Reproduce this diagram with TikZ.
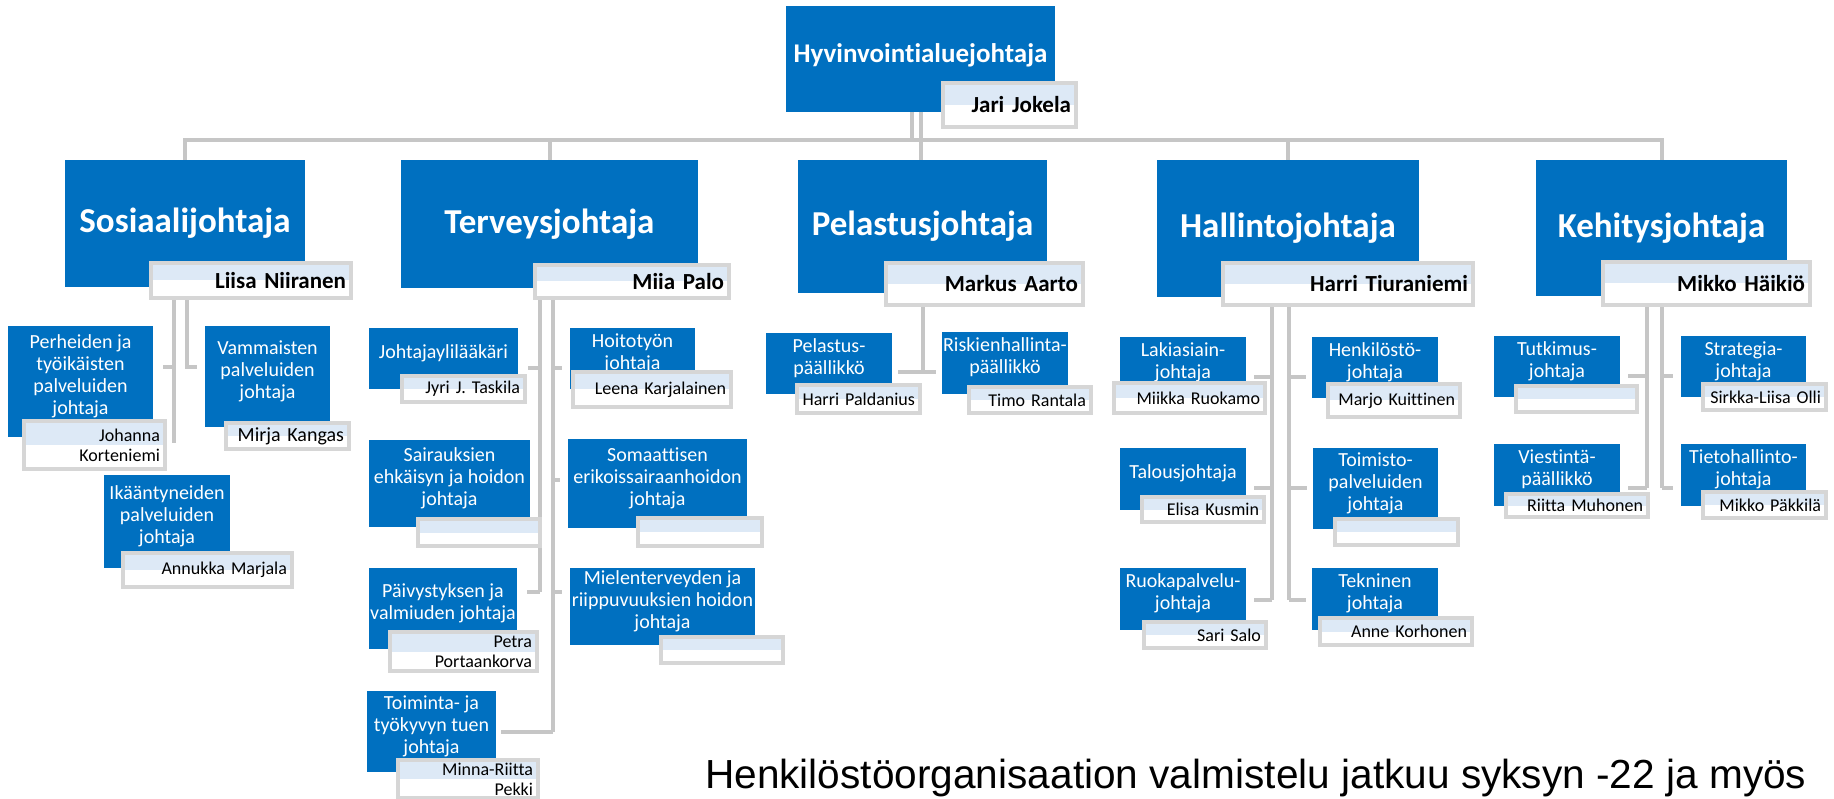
\documentclass[tikz,border=0pt]{standalone}
\usepackage{fontspec}
\setmainfont{Carlito}[Ligatures=NoCommon]
\newfontfamily\arialfont{Liberation Sans}
\usetikzlibrary{backgrounds}
\definecolor{orgblue}{RGB}{0,112,192}
\definecolor{framegray}{RGB}{214,214,214}
\definecolor{linegray}{RGB}{198,198,198}
\definecolor{paleblue}{RGB}{221,233,246}
\tikzset{
  bluebox/.style={fill=orgblue, text=white, align=center, inner sep=0pt, outer sep=0pt, anchor=north west, text depth=14pt, font=\fontsize{20}{22}\selectfont},
  headbox/.style={bluebox, text depth=, font=\fontsize{35}{40}\selectfont\bfseries},
  namebox/.style={draw=framegray, line width=4pt, fill=white, text=black, align=right, inner xsep=5pt, inner ysep=0pt, outer sep=0pt, anchor=north west, font=\fontsize{18}{20}\selectfont,
    path picture={\fill[paleblue] (path picture bounding box.north west) rectangle (path picture bounding box.east);}},
  headname/.style={namebox, font=\fontsize{23}{26}\selectfont\bfseries},
  conn/.style={draw=linegray, line width=4pt},
  note/.style={anchor=base west, inner sep=0pt, font=\arialfont\fontsize{40.6}{48}\selectfont}
}
\begin{document}
\begin{tikzpicture}[x=1pt, y=-1pt]
\useasboundingbox (0,0) rectangle (1834,799);

% ylin taso
\node[headbox, minimum width=269pt, minimum height=106pt, text depth=12pt, font=\fontsize{27}{30}\selectfont\bfseries] (top) at (786,6) {Hyvinvointialuejohtaja};
\node[headname, text width=123pt, minimum height=44pt] (topN) at (943,83) {Jari Jokela};

% johtajat
\node[headbox, minimum width=240pt, minimum height=127pt] (soc) at (65,160) {Sosiaalijohtaja};
\node[headname, text width=190pt, minimum height=35pt] (socN) at (151,263) {Liisa Niiranen};
\node[headbox, minimum width=297pt, minimum height=128pt] (terv) at (401,160) {Terveysjohtaja};
\node[headname, text width=184pt, minimum height=33pt] (tervN) at (535,265) {Miia Palo};
\node[headbox, minimum width=249pt, minimum height=133pt] (pel) at (798,160) {Pelastusjohtaja};
\node[headname, text width=187pt, minimum height=42pt] (pelN) at (886,263) {Markus Aarto};
\node[headbox, minimum width=262pt, minimum height=137pt] (hall) at (1157,160) {Hallintojohtaja};
\node[headname, text width=240pt, minimum height=42pt] (hallN) at (1223,263) {Harri Tiuraniemi};
\node[headbox, minimum width=251pt, minimum height=136pt] (keh) at (1536,160) {Kehitysjohtaja};
\node[headname, text width=197pt, minimum height=43pt] (kehN) at (1603,262) {Mikko Häikiö};

% sosiaali
\node[bluebox, minimum width=145pt, minimum height=111pt] (perh) at (8,326) {Perheiden ja\\työikäisten\\palveluiden\\johtaja};
\node[namebox, text width=131pt, minimum height=48pt] (perhN) at (24,421) {Johanna\\Korteniemi};
\node[bluebox, minimum width=125pt, minimum height=101pt] (vamm) at (205,326) {Vammaisten\\palveluiden\\johtaja};
\node[namebox, text width=113pt, minimum height=26pt, font=\fontsize{20}{22}\selectfont] (vammN) at (226,423) {Mirja Kangas};
\node[bluebox, minimum width=126pt, minimum height=93pt] (ikaa) at (104,475) {Ikääntyneiden\\palveluiden\\johtaja};
\node[namebox, text width=159pt, minimum height=34pt] (ikaaN) at (123,553) {Annukka Marjala};

% terveys
\node[bluebox, minimum width=149pt, minimum height=61pt] (ylil) at (369,328) {Johtajaylilääkäri};
\node[namebox, text width=113pt, minimum height=26pt] (ylilN) at (402,376) {Jyri J. Taskila};
\node[bluebox, minimum width=161pt, minimum height=87pt] (sair) at (369,440) {Sairauksien\\ehkäisyn ja hoidon\\johtaja};
\node[namebox, text width=112pt, minimum height=27pt] (sairN) at (418,519) {};
\node[bluebox, minimum width=148pt, minimum height=81pt] (paiv) at (369,568) {Päivystyksen ja\\valmiuden johtaja};
\node[namebox, text width=137pt, minimum height=39pt] (paivN) at (390,632) {Petra\\Portaankorva};
\node[bluebox, minimum width=129pt, minimum height=81pt] (toim) at (367,691) {Toiminta- ja\\työkyvyn tuen\\johtaja};
\node[namebox, text width=130pt, minimum height=38pt] (toimN) at (398,760) {Minna-Riitta\\Pekki};
\node[bluebox, minimum width=125pt, minimum height=61pt] (hoit) at (570,328) {Hoitotyön\\johtaja};
\node[namebox, text width=148pt, minimum height=35pt] (hoitN) at (573,372) {Leena Karjalainen};
\node[bluebox, minimum width=179pt, minimum height=89pt] (soma) at (568,439) {Somaattisen\\erikoissairaanhoidon\\johtaja};
\node[namebox, text width=114pt, minimum height=28pt] (somaN) at (638,518) {};
\node[bluebox, minimum width=185pt, minimum height=77pt] (miel) at (570,568) {Mielenterveyden ja\\riippuvuuksien hoidon\\johtaja};
\node[namebox, text width=112pt, minimum height=26pt] (mielN) at (661,637) {};

% pelastus
\node[bluebox, minimum width=126pt, minimum height=61pt] (ppal) at (766,333) {Pelastus-\\päällikkö};
\node[namebox, text width=113pt, minimum height=28pt] (ppalN) at (797,385) {Harri Paldanius};
\node[bluebox, minimum width=126pt, minimum height=62pt] (risk) at (942,332) {Riskienhallinta-\\päällikkö};
\node[namebox, text width=112pt, minimum height=26pt] (riskN) at (969,387) {Timo Rantala};

% hallinto
\node[bluebox, minimum width=126pt, minimum height=61pt] (laki) at (1120,337) {Lakiasiain-\\johtaja};
\node[namebox, text width=141pt, minimum height=30pt] (lakiN) at (1114,383) {Miikka Ruokamo};
\node[bluebox, minimum width=126pt, minimum height=62pt] (talo) at (1120,448) {Talousjohtaja};
\node[namebox, text width=112pt, minimum height=25pt] (taloN) at (1142,497) {Elisa Kusmin};
\node[bluebox, minimum width=126pt, minimum height=62pt] (ruok) at (1120,568) {Ruokapalvelu-\\johtaja};
\node[namebox, text width=112pt, minimum height=26pt] (ruokN) at (1144,622) {Sari Salo};
\node[bluebox, minimum width=126pt, minimum height=61pt] (henk) at (1312,337) {Henkilöstö-\\johtaja};
\node[namebox, text width=122pt, minimum height=33pt] (henkN) at (1328,384) {Marjo Kuittinen};
\node[bluebox, minimum width=125pt, minimum height=81pt] (tsto) at (1313,448) {Toimisto-\\palveluiden\\johtaja};
\node[namebox, text width=113pt, minimum height=26pt] (tstoN) at (1335,519) {};
\node[bluebox, minimum width=126pt, minimum height=62pt] (tekn) at (1312,568) {Tekninen\\johtaja};
\node[namebox, text width=142pt, minimum height=27pt] (teknN) at (1320,618) {Anne Korhonen};

% kehitys
\node[bluebox, minimum width=126pt, minimum height=61pt] (tutk) at (1494,336) {Tutkimus-\\johtaja};
\node[namebox, text width=111pt, minimum height=26pt] (tutkN) at (1516,386) {};
\node[bluebox, minimum width=126pt, minimum height=62pt] (vies) at (1494,444) {Viestintä-\\päällikkö};
\node[namebox, text width=132pt, minimum height=23pt] (viesN) at (1506,494) {Riitta Muhonen};
\node[bluebox, minimum width=125pt, minimum height=61pt] (stra) at (1681,336) {Strategia-\\johtaja};
\node[namebox, text width=113pt, minimum height=26pt] (straN) at (1703,384) {Sirkka-Liisa Olli};
\node[bluebox, minimum width=125pt, minimum height=62pt] (tiet) at (1681,444) {Tietohallinto-\\johtaja};
\node[namebox, text width=113pt, minimum height=26pt] (tietN) at (1703,492) {Mikko Päkkilä};

\node[note] (remark) at (705,788) {Henkilöstöorganisaation valmistelu jatkuu syksyn -22 ja myös};

% rivit
\coordinate (bar) at (0,140);
\coordinate (sr1) at (0,367);
\coordinate (tr1) at (0,368);
\coordinate (tr2) at (0,480);
\coordinate (tr3) at (0,592);
\coordinate (tr4) at (0,732);
\coordinate (pr1) at (0,372);
\coordinate (hr1) at (0,377);
\coordinate (hr2) at (0,488);
\coordinate (hr3) at (0,600);
\coordinate (kr1) at (0,376);
\coordinate (kr2) at (0,488);

\coordinate (socA) at ([xshift=-11pt]soc.south |- socN.south);
\coordinate (socB) at ([xshift=2pt]soc.south |- socN.south);
\coordinate (tervA) at ([xshift=-10pt]terv.south |- tervN.south);
\coordinate (tervB) at ([xshift=3pt]terv.south |- tervN.south);
\coordinate (hallA) at ([xshift=-16pt]hall.south |- hallN.south);
\coordinate (hallB) at ([xshift=1pt]hall.south |- hallN.south);
\coordinate (kehA) at ([xshift=-15pt]keh.south |- kehN.south);
\coordinate (kehB) at (keh.south |- kehN.south);

\begin{scope}[on background layer]
% ylin taso
\draw[conn] (top.south) -- (top.south |- pel.north);
\draw[conn] ([xshift=-9pt]top.south) -- ([xshift=-9pt]top.south |- bar);
\draw[conn] (soc.north) -- (soc.north |- bar) -| (keh.north);
\draw[conn] (terv.north) -- (terv.north |- bar);
\draw[conn] (hall.north) -- (hall.north |- bar);

% sosiaali
\draw[conn] (socA) -- ++(0,145);
\draw[conn, shorten >=10pt] (socA |- sr1) -- (perh.east |- sr1);
\draw[conn, shorten >=8pt] (socB) |- (vamm.west |- sr1);

% terveys
\draw[conn] (tervA) -- (tervA |- tr3);
\draw[conn] (tervB) -- (tervB |- tr4);
\foreach \r/\a/\b in {tr1/ylil/hoit, tr2/sair/soma, tr3/paiv/miel} {
  \draw[conn, shorten >=10pt] (tervA |- \r) -- (\a.east |- \r);
  \draw[conn, shorten >=8pt] (tervB |- \r) -- (\b.west |- \r);
}
\draw[conn, shorten >=5pt] (tervB |- tr4) -- (toim.east |- tr4);

% pelastus
\draw[conn] (pel.south |- pelN.south) -- (pel.south |- pr1);
\draw[conn, shorten <=6pt, shorten >=6pt] (ppal.east |- pr1) -- (risk.west |- pr1);

% hallinto
\draw[conn] (hallA) -- (hallA |- hr3);
\draw[conn] (hallB) -- (hallB |- hr3);
\foreach \r/\a/\b in {hr1/laki/henk, hr2/talo/tsto, hr3/ruok/tekn} {
  \draw[conn, shorten >=8pt] (hallA |- \r) -- (\a.east |- \r);
  \draw[conn, shorten >=6pt] (hallB |- \r) -- (\b.west |- \r);
}

% kehitys
\draw[conn] (kehA) -- (kehA |- kr2);
\draw[conn] (kehB) -- (kehB |- kr2);
\foreach \r/\a/\b in {kr1/tutk/stra, kr2/vies/tiet} {
  \draw[conn, shorten >=8pt] (kehA |- \r) -- (\a.east |- \r);
  \draw[conn, shorten >=8pt] (kehB |- \r) -- (\b.west |- \r);
}
\end{scope}
\end{tikzpicture}
\end{document}
